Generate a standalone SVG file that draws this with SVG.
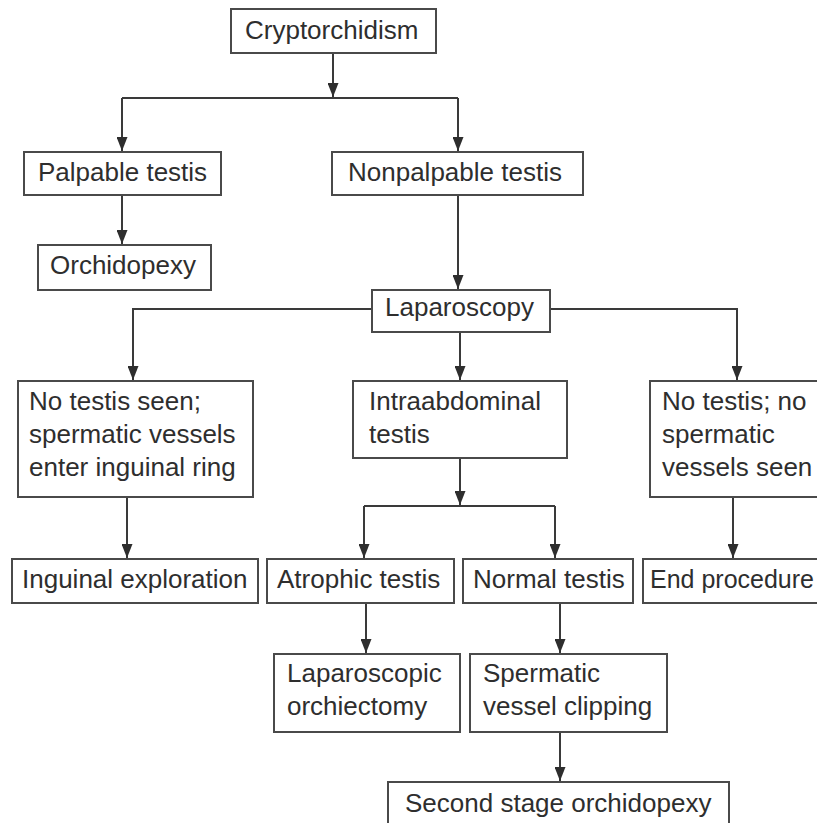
<svg xmlns="http://www.w3.org/2000/svg" width="817" height="823" viewBox="0 0 817 823">
<style>
  .box { fill: #ffffff; stroke: #4a4a4a; stroke-width: 2; }
  .t { font-family: "Liberation Sans", Arial, Helvetica, sans-serif; font-size: 26px; fill: #2e2e2e; }
  .c { fill: none; stroke: #3a3a3a; stroke-width: 2; }
  .a { marker-end: url(#arr); }
</style>
<defs>
  <marker id="arr" markerUnits="userSpaceOnUse" markerWidth="14" markerHeight="11" refX="14" refY="5.5" orient="auto" viewBox="0 0 14 11">
    <path d="M0,0 L14,5.5 L0,11 z" fill="#2e2e2e"/>
  </marker>
</defs>
<rect x="0" y="0" width="817" height="823" fill="#ffffff"/>

<g id="connectors">
  <path class="c a" d="M333,53 V97"/>
  <path class="c" d="M122,98 H458"/>
  <path class="c a" d="M122,98 V151"/>
  <path class="c a" d="M458,98 V151"/>
  <path class="c a" d="M122,196 V244"/>
  <path class="c a" d="M458,196 V289"/>
  <path class="c a" d="M372,309 H133 V380"/>
  <path class="c a" d="M550,309 H737 V380"/>
  <path class="c a" d="M460,332 V380"/>
  <path class="c a" d="M127,497 V558"/>
  <path class="c a" d="M460,458 V505"/>
  <path class="c" d="M364,506 H555"/>
  <path class="c a" d="M364,506 V558"/>
  <path class="c a" d="M555,506 V558"/>
  <path class="c a" d="M733,497 V558"/>
  <path class="c a" d="M366,603 V653"/>
  <path class="c a" d="M560,603 V653"/>
  <path class="c a" d="M560,732 V781"/>
</g>

<g id="cryptorchidism">
  <rect class="box" x="231" y="9" width="205" height="44"/>
  <text class="t" x="245" y="39">Cryptorchidism</text>
</g>
<g id="palpable">
  <rect class="box" x="24" y="152" width="197" height="43"/>
  <text class="t" x="38" y="181">Palpable testis</text>
</g>
<g id="nonpalpable">
  <rect class="box" x="332" y="152" width="251" height="43"/>
  <text class="t" x="348" y="181">Nonpalpable testis</text>
</g>
<g id="orchidopexy">
  <rect class="box" x="38" y="245" width="173" height="45"/>
  <text class="t" x="50" y="274">Orchidopexy</text>
</g>
<g id="laparoscopy">
  <rect class="box" x="372" y="290" width="178" height="42"/>
  <text class="t" x="385" y="316">Laparoscopy</text>
</g>
<g id="no-testis-seen">
  <rect class="box" x="18" y="381" width="235" height="116"/>
  <text class="t" x="29" y="410">No testis seen;</text>
  <text class="t" x="29" y="443">spermatic vessels</text>
  <text class="t" x="29" y="476">enter inguinal ring</text>
</g>
<g id="intraabdominal">
  <rect class="box" x="353" y="381" width="214" height="77"/>
  <text class="t" x="369" y="410">Intraabdominal</text>
  <text class="t" x="369" y="443">testis</text>
</g>
<g id="no-testis-no-vessels">
  <rect class="box" x="650" y="381" width="200" height="116"/>
  <text class="t" x="662" y="410">No testis; no</text>
  <text class="t" x="662" y="443">spermatic</text>
  <text class="t" x="662" y="476">vessels seen</text>
</g>
<g id="inguinal-exploration">
  <rect class="box" x="12" y="559" width="246" height="44"/>
  <text class="t" x="22" y="588">Inguinal exploration</text>
</g>
<g id="atrophic">
  <rect class="box" x="267" y="559" width="187" height="44"/>
  <text class="t" x="277" y="588">Atrophic testis</text>
</g>
<g id="normal">
  <rect class="box" x="463" y="559" width="170" height="44"/>
  <text class="t" x="473" y="588">Normal testis</text>
</g>
<g id="end-procedure">
  <rect class="box" x="643" y="559" width="200" height="44"/>
  <text class="t" x="650" y="588" style="font-size:25px">End procedure</text>
</g>
<g id="lap-orchiectomy">
  <rect class="box" x="274" y="654" width="186" height="78"/>
  <text class="t" x="287" y="682">Laparoscopic</text>
  <text class="t" x="287" y="715">orchiectomy</text>
</g>
<g id="vessel-clipping">
  <rect class="box" x="470" y="654" width="197" height="78"/>
  <text class="t" x="483" y="682">Spermatic</text>
  <text class="t" x="483" y="715">vessel clipping</text>
</g>
<g id="second-stage">
  <rect class="box" x="388" y="782" width="341" height="60"/>
  <text class="t" x="405" y="812">Second stage orchidopexy</text>
</g>
</svg>
